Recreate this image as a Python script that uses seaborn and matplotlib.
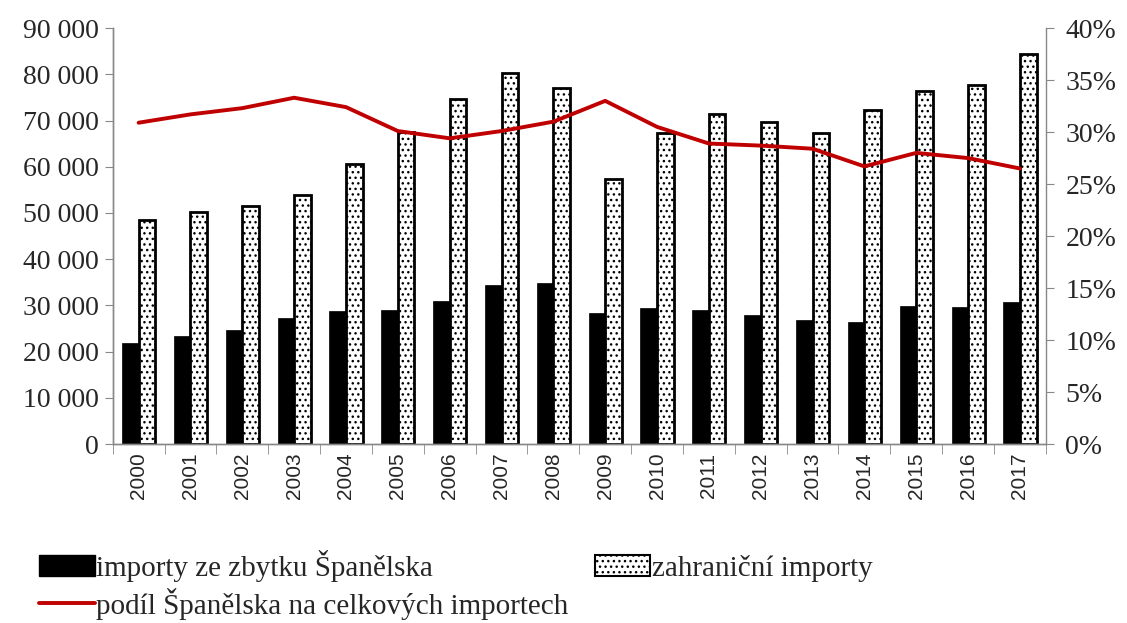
import numpy as np
import pandas as pd
import seaborn as sns
import matplotlib.pyplot as plt
from matplotlib.patches import Patch
from matplotlib.lines import Line2D
from matplotlib.ticker import FuncFormatter, MultipleLocator

years = [str(y) for y in range(2000, 2018)]
domestic = [21800, 23300, 24800, 27200, 28900, 29100, 31000, 34500, 34800,
            28300, 29400, 29100, 28000, 26900, 26500, 29800, 29700, 30700]
foreign = [48500, 50200, 51500, 54000, 60500, 67500, 74600, 80200, 77100,
           57400, 67300, 71500, 69600, 67400, 72200, 76400, 77700, 84400]
share = [30.9, 31.7, 32.3, 33.3, 32.4, 30.1, 29.4, 30.1, 31.0,
         33.0, 30.5, 28.9, 28.7, 28.4, 26.7, 28.0, 27.5, 26.5]

lab_dom = 'importy ze zbytku Španělska'
lab_for = 'zahraniční importy'
lab_share = 'podíl Španělska na celkových importech'

df = pd.DataFrame({
    'rok': years * 2,
    'hodnota': domestic + foreign,
    'typ': [lab_dom] * len(years) + [lab_for] * len(years),
})

sns.set_style('white')
plt.rcParams['font.family'] = ['Liberation Serif', 'DejaVu Serif']
plt.rcParams['hatch.linewidth'] = 1.0

fig, ax = plt.subplots(figsize=(11.27, 6.23), dpi=100)
fig.subplots_adjust(left=0.1, right=0.928, top=0.955, bottom=0.287)

sns.barplot(data=df, x='rok', y='hodnota', hue='typ', ax=ax,
            palette={lab_dom: 'black', lab_for: 'white'},
            width=0.64, gap=0, legend=False, saturation=1)

n = len(years)
for i, p in enumerate(ax.patches[:2 * n]):
    p.set_edgecolor('black')
    if i >= n:
        p.set_linewidth(2)
        p.set_hatch('...')
    else:
        p.set_linewidth(0.5)

ax.set_xlim(-0.5, n - 0.5)
ax.set_ylim(0, 90000)
ax.yaxis.set_major_locator(MultipleLocator(10000))
ax.yaxis.set_major_formatter(FuncFormatter(lambda v, _: f'{int(v):,}'.replace(',', ' ')))
ax.set_xlabel('')
ax.set_ylabel('')
ax.tick_params(axis='y', labelsize=20, length=6, color='#888888', direction='out', left=True, pad=4)
ax.set_xticks(range(n))
ax.set_xticklabels(years, rotation=90, fontsize=15, family='Liberation Sans')
ax.tick_params(axis='x', which='major', length=0, pad=6)
ax.set_xticks(np.arange(-0.5, n, 1), minor=True)
ax.tick_params(axis='x', which='minor', length=7, color='#888888', bottom=True)

ax2 = ax.twinx()
sns.lineplot(x=np.arange(n), y=share, ax=ax2, color='#c00000', linewidth=2.8)
ax2.set_ylim(0, 40)
ax2.yaxis.set_major_locator(MultipleLocator(5))
ax2.yaxis.set_major_formatter(FuncFormatter(lambda v, _: f'{int(v)}%'))
ax2.tick_params(axis='y', labelsize=20, length=6, color='#888888', direction='out', right=True, pad=8)
ax2.set_xlim(-0.5, n - 0.5)

for a in (ax, ax2):
    a.spines['top'].set_visible(False)
    for s in ('left', 'right', 'bottom'):
        a.spines[s].set_color('#888888')
        a.spines[s].set_linewidth(1)
ax.spines['right'].set_visible(False)

handles = [
    Patch(facecolor='black', edgecolor='black', label=lab_dom),
    Line2D([0], [0], color='#c00000', linewidth=2.8, label=lab_share),
    Patch(facecolor='white', edgecolor='black', hatch='...', linewidth=1.5, label=lab_for),
]
fig.legend(handles=handles, loc='lower left', bbox_to_anchor=(0.022, -0.018),
           ncol=2, frameon=False, fontsize=21, handlelength=1.9, handletextpad=0.05,
           columnspacing=0.9, labelspacing=0.2, borderaxespad=0.1)

fig.savefig('out.png', dpi=100)
